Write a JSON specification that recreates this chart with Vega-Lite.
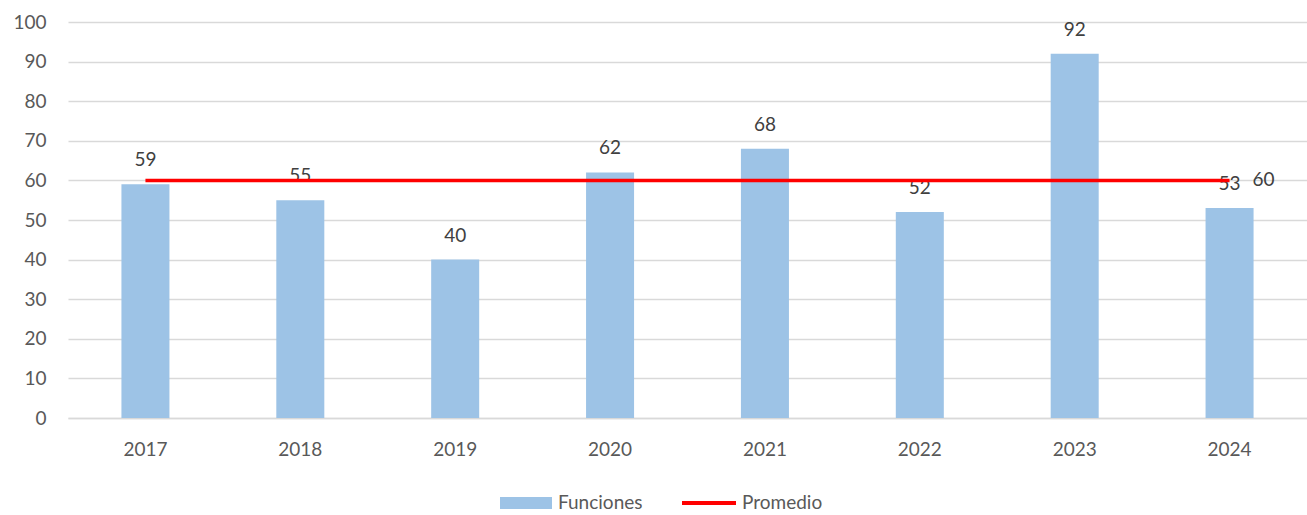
{
  "$schema": "https://vega.github.io/schema/vega-lite/v6.json",
  "autosize": "none",
  "width": 1239,
  "height": 396,
  "padding": {"left": 68, "top": 22, "right": 0, "bottom": 97},
  "background": "white",
  "config": {
    "font": "Lato",
    "view": {"stroke": null},
    "axis": {"labelFont": "Lato", "labelFontSize": 19, "labelColor": "#595959", "ticks": false, "title": null, "gridColor": "#d9d9d9", "gridWidth": 1.3},
    "legend": {"labelFont": "Lato", "labelFontSize": 19, "labelColor": "#595959", "padding": 0, "title": null}
  },
  "data": {
    "values": [
      {"year": "2017", "serie": "Funciones", "valor": 59},
      {"year": "2018", "serie": "Funciones", "valor": 55},
      {"year": "2019", "serie": "Funciones", "valor": 40},
      {"year": "2020", "serie": "Funciones", "valor": 62},
      {"year": "2021", "serie": "Funciones", "valor": 68},
      {"year": "2022", "serie": "Funciones", "valor": 52},
      {"year": "2023", "serie": "Funciones", "valor": 92},
      {"year": "2024", "serie": "Funciones", "valor": 53},
      {"year": "2017", "serie": "Promedio", "valor": 60},
      {"year": "2018", "serie": "Promedio", "valor": 60},
      {"year": "2019", "serie": "Promedio", "valor": 60},
      {"year": "2020", "serie": "Promedio", "valor": 60},
      {"year": "2021", "serie": "Promedio", "valor": 60},
      {"year": "2022", "serie": "Promedio", "valor": 60},
      {"year": "2023", "serie": "Promedio", "valor": 60},
      {"year": "2024", "serie": "Promedio", "valor": 60}
    ]
  },
  "encoding": {
    "x": {
      "field": "year", "type": "nominal",
      "scale": {"paddingInner": 0.69, "paddingOuter": 0.345},
      "axis": {"labelAngle": 0, "labelPadding": 22, "domainColor": "#d9d9d9", "domainWidth": 1.3, "grid": false}
    },
    "y": {
      "field": "valor", "type": "quantitative",
      "scale": {"domain": [0, 100], "nice": false},
      "axis": {"tickCount": 11, "tickMinStep": 10, "labelOverlap": false, "domain": false, "labelPadding": 22}
    }
  },
  "layer": [
    {
      "transform": [{"filter": "datum.serie == 'Funciones'"}],
      "mark": {"type": "bar"},
      "encoding": {
        "color": {
          "field": "serie", "type": "nominal",
          "scale": {"range": ["#9dc3e6"]},
          "legend": {"orient": "none", "legendX": 432, "legendY": 455, "symbolType": "M-1,-0.23H1V0.23H-1Z", "symbolSize": 2704, "symbolStrokeWidth": 0, "symbolOpacity": 1, "labelOffset": 6}
        }
      }
    },
    {
      "transform": [{"filter": "datum.serie == 'Funciones'"}],
      "mark": {"type": "text", "baseline": "bottom", "dy": -14, "fontSize": 19, "color": "#404040"},
      "encoding": {
        "text": {"field": "valor", "type": "quantitative"}
      }
    },
    {
      "transform": [{"filter": "datum.serie == 'Promedio'"}],
      "mark": {"type": "line", "strokeWidth": 3.5},
      "encoding": {
        "stroke": {
          "field": "serie", "type": "nominal",
          "scale": {"range": ["#ff0000"]},
          "legend": {"orient": "none", "legendX": 612, "legendY": 452, "symbolType": "stroke", "symbolSize": 2916, "symbolStrokeWidth": 4, "labelOffset": 4}
        }
      }
    },
    {
      "transform": [{"filter": "datum.serie == 'Promedio' && datum.year == '2024'"}],
      "mark": {"type": "text", "align": "left", "baseline": "middle", "dx": 23, "fontSize": 19, "color": "#404040"},
      "encoding": {
        "text": {"field": "valor", "type": "quantitative"}
      }
    }
  ]
}
